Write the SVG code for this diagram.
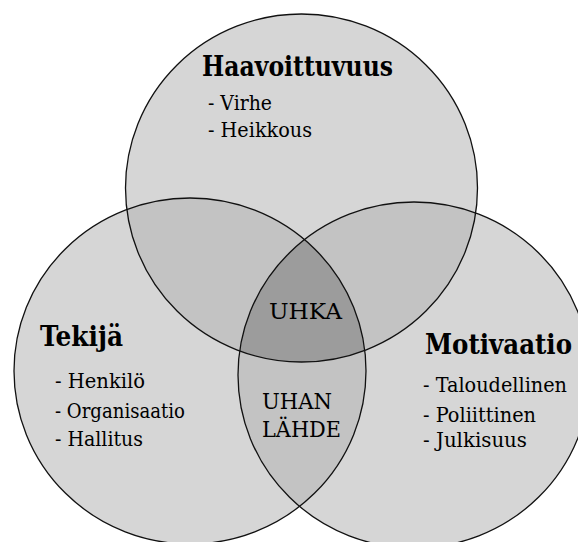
<svg xmlns="http://www.w3.org/2000/svg" xmlns:xlink="http://www.w3.org/1999/xlink" width="578" height="542" viewBox="0 0 578 542">
<style>
.fill1{fill:#d6d6d6;stroke:none}
.fill2{fill:#c3c3c3;stroke:none}
.fill3{fill:#9c9c9c;stroke:none}
.edge{fill:none;stroke:#111;stroke-width:1.3}
text{font-family:'DejaVu Serif','Liberation Serif',serif;fill:#000}
.title{font-weight:bold;font-size:27px}
.item{font-size:21px}
.mid{font-size:22px}
</style>
<defs>
<ellipse id="eTop" cx="301.5" cy="188" rx="176" ry="174"/>
<ellipse id="eLeft" cx="190" cy="371" rx="176" ry="173"/>
<ellipse id="eRight" cx="414" cy="375" rx="176" ry="173"/>
<clipPath id="cTop"><use xlink:href="#eTop"/></clipPath>
<clipPath id="cLeft"><use xlink:href="#eLeft"/></clipPath>
</defs>
<rect width="578" height="542" fill="#fff"/>
<g id="fills">
<use xlink:href="#eTop" class="fill1"/>
<use xlink:href="#eLeft" class="fill1"/>
<use xlink:href="#eRight" class="fill1"/>
<use xlink:href="#eLeft" class="fill2" clip-path="url(#cTop)"/>
<use xlink:href="#eRight" class="fill2" clip-path="url(#cTop)"/>
<use xlink:href="#eRight" class="fill2" clip-path="url(#cLeft)"/>
<g clip-path="url(#cLeft)"><use xlink:href="#eRight" class="fill3" clip-path="url(#cTop)"/></g>
</g>
<g id="haavoittuvuus">
<use xlink:href="#eTop" class="edge"/>
<text class="title" x="202" y="76" textLength="191" lengthAdjust="spacingAndGlyphs">Haavoittuvuus</text>
<text class="item" x="208" y="110" textLength="64" lengthAdjust="spacingAndGlyphs">- Virhe</text>
<text class="item" x="208" y="137" textLength="104" lengthAdjust="spacingAndGlyphs">- Heikkous</text>
</g>
<g id="tekija">
<use xlink:href="#eLeft" class="edge"/>
<text class="title" x="40" y="346" textLength="83" lengthAdjust="spacingAndGlyphs">Tekijä</text>
<text class="item" x="55" y="388" textLength="90" lengthAdjust="spacingAndGlyphs">- Henkilö</text>
<text class="item" x="55" y="418" textLength="130" lengthAdjust="spacingAndGlyphs">- Organisaatio</text>
<text class="item" x="55" y="446" textLength="88" lengthAdjust="spacingAndGlyphs">- Hallitus</text>
</g>
<g id="motivaatio">
<use xlink:href="#eRight" class="edge"/>
<text class="title" x="425" y="354" textLength="147" lengthAdjust="spacingAndGlyphs">Motivaatio</text>
<text class="item" x="423" y="392" textLength="144" lengthAdjust="spacingAndGlyphs">- Taloudellinen</text>
<text class="item" x="423" y="422" textLength="113" lengthAdjust="spacingAndGlyphs">- Poliittinen</text>
<text class="item" x="423" y="447" textLength="104" lengthAdjust="spacingAndGlyphs">- Julkisuus</text>
</g>
<g id="uhka">
<text class="mid" x="269" y="319" textLength="73" lengthAdjust="spacingAndGlyphs">UHKA</text>
</g>
<g id="uhan-lahde">
<text class="mid" x="262" y="409" textLength="70" lengthAdjust="spacingAndGlyphs">UHAN</text>
<text class="mid" x="262" y="437" textLength="79" lengthAdjust="spacingAndGlyphs">LÄHDE</text>
</g>
<g id="connectors"></g>
</svg>
